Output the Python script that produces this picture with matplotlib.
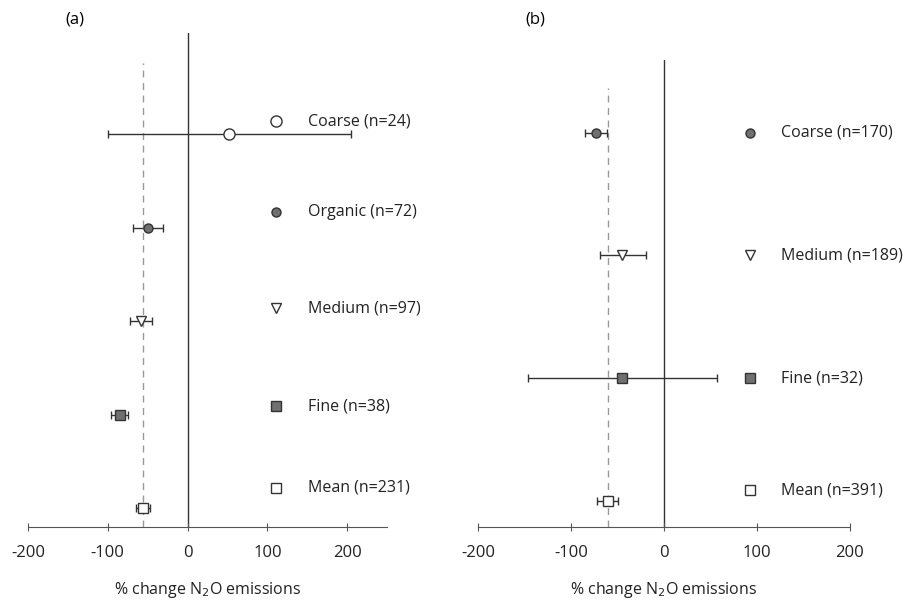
import matplotlib
matplotlib.use("Agg")
from matplotlib import pyplot as plt

plt.rcParams['font.family'] = ['Open Sans', 'DejaVu Sans']

# panel (a)
a_labels = ["Coarse (n=24)", "Organic (n=72)", "Medium (n=97)", "Fine (n=38)", "Mean (n=231)"]
a_mean = [52, -50, -59, -85, -56]
a_low = [-100, -69, -72, -96, -65]
a_high = [205, -31, -45, -75, -47]
a_markers = ["o", "o", "v", "s", "s"]
a_fill = ["white", "#707070", "white", "#707070", "white"]

# panel (b)
b_labels = ["Coarse (n=170)", "Medium (n=189)", "Fine (n=32)", "Mean (n=391)"]
b_mean = [-73, -45, -45, -60]
b_low = [-85, -69, -146, -72]
b_high = [-61, -19, 57, -49]
b_markers = ["o", "v", "s", "s"]
b_fill = ["#707070", "white", "#707070", "white"]

xticks = [-200, -100, 0, 100, 200]


def forest(ax, labels, mean, low, high, markers, fill, xlim, ylim,
           dash_top, leg_x, txt_x, leg_dy):
    n = len(labels)
    for i in range(n):
        y = n - i
        ax.errorbar(mean[i], y, xerr=[[mean[i] - low[i]], [high[i] - mean[i]]],
                    fmt="none", ecolor="#333333", elinewidth=1.0, capsize=3, capthick=1.0, zorder=3)
        ms = 8 if (markers[i] == "o" and fill[i] == "white") else 6.5
        if markers[i] == "v":
            ms = 7
        ax.plot(mean[i], y, marker=markers[i], ms=ms, mfc=fill[i], mec="#333333",
                mew=1.0, ls="none", zorder=4)
        # manual legend entry
        ax.plot(leg_x, y + leg_dy[i], marker=markers[i], ms=ms, mfc=fill[i], mec="#333333",
                mew=1.0, ls="none", clip_on=False, zorder=4)
        ax.text(txt_x, y + leg_dy[i], labels[i], va="center", ha="left", fontsize=11.5,
                color="#222222", clip_on=False)

    ax.axvline(0, color="#333333", lw=1.0, zorder=1)
    ax.plot([mean[-1], mean[-1]], [ylim[0], dash_top], color="#999999", lw=1.0,
            ls=(0, (5, 4)), zorder=1)

    ax.set_xlim(*xlim)
    ax.set_ylim(*ylim)
    ax.set_xticks(xticks)
    ax.set_xticklabels([str(t) for t in xticks], fontsize=12, color="#222222")
    ax.set_yticks([])
    for s in ["top", "right", "left"]:
        ax.spines[s].set_visible(False)
    ax.spines["bottom"].set_color("#555555")
    ax.tick_params(axis="x", direction="inout", length=6, color="#555555", pad=10)
    ax.set_xlabel("% change N$_2$O emissions", fontsize=11.5, color="#222222", labelpad=14)


fig = plt.figure(figsize=(9.09, 6.0), dpi=100, facecolor="white")

ax1 = fig.add_axes([0.0308, 0.1217, 0.395, 0.823])
forest(ax1, a_labels, a_mean, a_low, a_high, a_markers, a_fill,
       xlim=(-200, 250), ylim=(0.8, 6.08), dash_top=5.76,
       leg_x=111, txt_x=151, leg_dy=[0.14, 0.17, 0.14, 0.09, 0.22])

ax2 = fig.add_axes([0.526, 0.1217, 0.409, 0.778])
forest(ax2, b_labels, b_mean, b_low, b_high, b_markers, b_fill,
       xlim=(-200, 200), ylim=(0.79, 4.59), dash_top=4.36,
       leg_x=93, txt_x=126, leg_dy=[0.0, 0.0, 0.0, 0.09])

fig.text(75 / 909, 1 - 20 / 600, "(a)", ha="center", va="center", fontsize=12)
fig.text(535 / 909, 1 - 20 / 600, "(b)", ha="center", va="center", fontsize=12)

fig.savefig("out.png", dpi=100)
